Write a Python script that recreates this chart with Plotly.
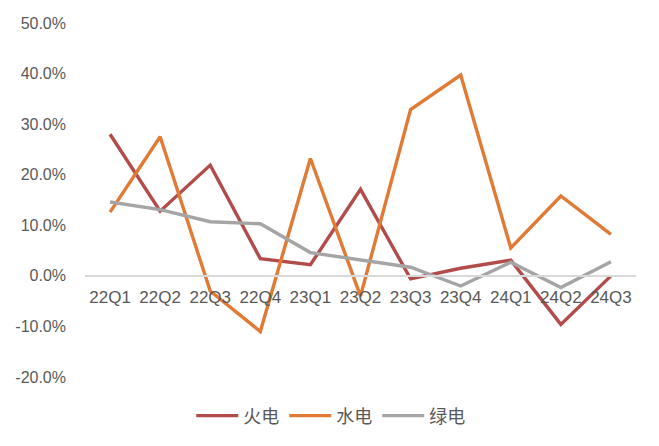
import plotly.graph_objects as go

quarters = ["22Q1", "22Q2", "22Q3", "22Q4", "23Q1", "23Q2", "23Q3", "23Q4", "24Q1", "24Q2", "24Q3"]
thermal = [28.0, 12.8, 21.9, 3.4, 2.2, 17.1, -0.6, 1.5, 3.1, -9.6, 0.0]
hydro = [12.6, 27.5, -3.0, -11.0, 23.2, -4.0, 32.9, 39.7, 5.5, 15.8, 8.2]
green = [14.6, 13.1, 10.7, 10.3, 4.6, 3.1, 1.7, -2.0, 2.7, -2.3, 2.8]
names = ["火电", "水电", "绿电"]
colors = ["#B24C4B", "#E07A35", "#A5A5A5"]
ytick_vals = [-20, -10, 0, 10, 20, 30, 40, 50]
ytick_text = [f"{v:.1f}%" for v in ytick_vals]

fig = go.Figure()
for name, vals, col in zip(names, [thermal, hydro, green], colors):
    fig.add_trace(go.Scatter(x=quarters, y=vals, name=name, mode="lines",
                             line=dict(color=col, width=3.4)))

ymin, ymax = -20, 50
fig.update_layout(
    width=659, height=446,
    margin=dict(l=85, r=23, t=23, b=67),
    paper_bgcolor="white", plot_bgcolor="white",
    font=dict(family="Liberation Sans, Noto Sans CJK SC, sans-serif", color="#595959", size=16),
    xaxis=dict(type="category", range=[-0.5, 10.5], showgrid=False,
               anchor="free", position=(0 - ymin) / (ymax - ymin),
               showline=True, linecolor="#D9D9D9", linewidth=1.5,
               ticks="", tickfont=dict(size=17, color="#595959"), ticklabelstandoff=6),
    yaxis=dict(range=[ymin, ymax], tickvals=ytick_vals, ticktext=ytick_text,
               showgrid=False, zeroline=False, showline=False, ticks="",
               tickfont=dict(size=16, color="#595959"), ticklabelstandoff=18),
    showlegend=True,
    legend=dict(orientation="h", x=0.446, xanchor="center", y=-0.11, yanchor="middle",
                font=dict(size=18, family="Noto Sans CJK SC, sans-serif", color="#595959"),
                itemwidth=42, tracegroupgap=0),
)
fig.write_html("out.html")
